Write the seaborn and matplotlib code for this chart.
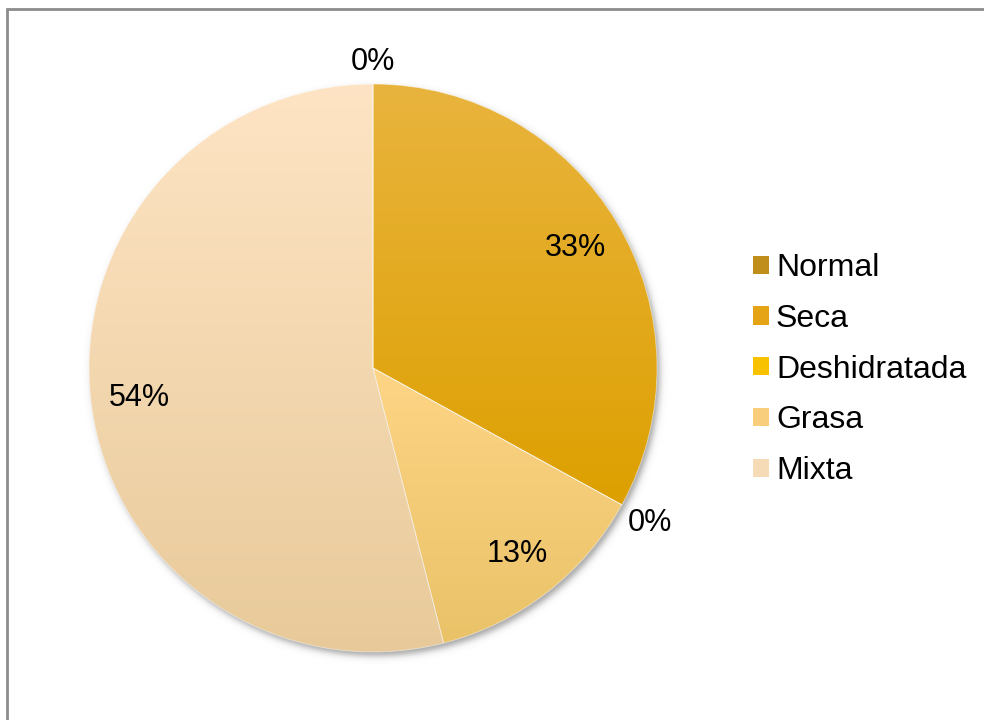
import numpy as np
import matplotlib
matplotlib.use("Agg")
import matplotlib.pyplot as plt
import seaborn as sns
from matplotlib.colors import LinearSegmentedColormap, to_rgb
from matplotlib.patches import Patch, Rectangle

# Skin types and share of responses (%)
categories = ["Normal", "Seca", "Deshidratada", "Grasa", "Mixta"]
values = [0, 33, 0, 13, 54]

# Vertical gradient per slice: (top colour, bottom colour)
gradients = [
    ("#CCA040", "#B88400"),
    ("#E9B43E", "#DDA000"),
    ("#FAC81A", "#F0B800"),
    ("#FDD585", "#EAC268"),
    ("#FEE4C4", "#E8CA9A"),
]
legend_colors = ["#C08E1A", "#E4A416", "#F8C200", "#F8CE7C", "#F6DCB6"]

sns.set_theme(style="white")
plt.rcParams["font.family"] = ["Liberation Sans", "DejaVu Sans"]
plt.rcParams["text.color"] = "black"

W, H = 984, 720
fig = plt.figure(figsize=(W / 100, H / 100), dpi=100)
fig.patch.set_facecolor("white")

# Chart-area frame (extends past the right and bottom edges)
fig.add_artist(Rectangle((7 / W, -0.1), 1.2, 1 - 9 / H + 0.1,
                         transform=fig.transFigure, fill=False,
                         edgecolor="#8C8C8C", linewidth=2))

# Pie axes: centre at (373, 368) px, radius 284 px
cx, cy, R = 373, 368, 284
lim = 1.2
side = 2 * lim * R
ax = fig.add_axes([(cx - side / 2) / W, (H - cy - side / 2) / H, side / W, side / H])
ax.axis("off")

# Soft drop shadow under the pie
n = 600
xs = np.linspace(-lim, lim, n)
X, Y = np.meshgrid(xs, xs)
off_x, off_y = 3 / R, -4 / R
d = np.hypot(X - off_x, Y - off_y)
blur = 4 / R
shadow_alpha = 0.55 * 0.5 * (1 - np.tanh((d - 1.0) / blur))
shadow = np.zeros((n, n, 4))
shadow[..., :3] = 0.35
shadow[..., 3] = shadow_alpha
ax.imshow(shadow, extent=(-lim, lim, -lim, lim), origin="lower", zorder=0,
          interpolation="bilinear")

wedges, texts, autotexts = ax.pie(
    values, startangle=90, counterclock=False,
    colors=legend_colors, radius=1.0,
    autopct=lambda p: f"{p:.0f}%", pctdistance=0.83,
    wedgeprops=dict(linewidth=0.6, edgecolor=(1, 1, 1, 0.5)),
    textprops=dict(fontsize=22, color="black"),
)

# Gradient fills clipped to each wedge (light at the top, darker below)
grad = np.linspace(0, 1, 256).reshape(-1, 1)
for w, (top, bottom) in zip(wedges, gradients):
    ext = w.get_path().get_extents()
    if ext.height <= 0 or ext.width <= 0:
        w.set_zorder(4)
        continue
    cmap = LinearSegmentedColormap.from_list("g", [to_rgb(top), to_rgb(bottom)])
    im = ax.imshow(grad, cmap=cmap, aspect="auto",
                   extent=(ext.x0, ext.x1, ext.y0, ext.y1), origin="upper",
                   zorder=3, interpolation="bilinear")
    im.set_clip_path(w)
    w.set_facecolor("none")
    w.set_zorder(4)

# Labels for empty slices sit just outside the rim, anchored by their near edge
for val, t in zip(values, autotexts):
    t.set_zorder(5)
    if val == 0:
        x, y = t.get_position()
        r = np.hypot(x, y)
        ux, uy = x / r, y / r
        t.set_position((ux * 1.025, uy * 1.025))
        t.set_ha("left" if ux > 0.1 else "right" if ux < -0.1 else "center")
        t.set_va("bottom" if uy > 0.1 else "top" if uy < -0.1 else "center")

ax.set_xlim(-lim, lim)
ax.set_ylim(-lim, lim)
ax.set_aspect("equal")

handles = [Patch(facecolor=c, edgecolor="none") for c in legend_colors]
fig.legend(handles, categories, loc="center left",
           bbox_to_anchor=(753 / W, (H - 369.5) / H),
           frameon=False, fontsize=23, borderpad=0, borderaxespad=0,
           handlelength=0.5, handleheight=0.5, handletextpad=0.22,
           labelspacing=0.65, labelcolor="black")

fig.savefig("out.png", dpi=100, facecolor="white")
